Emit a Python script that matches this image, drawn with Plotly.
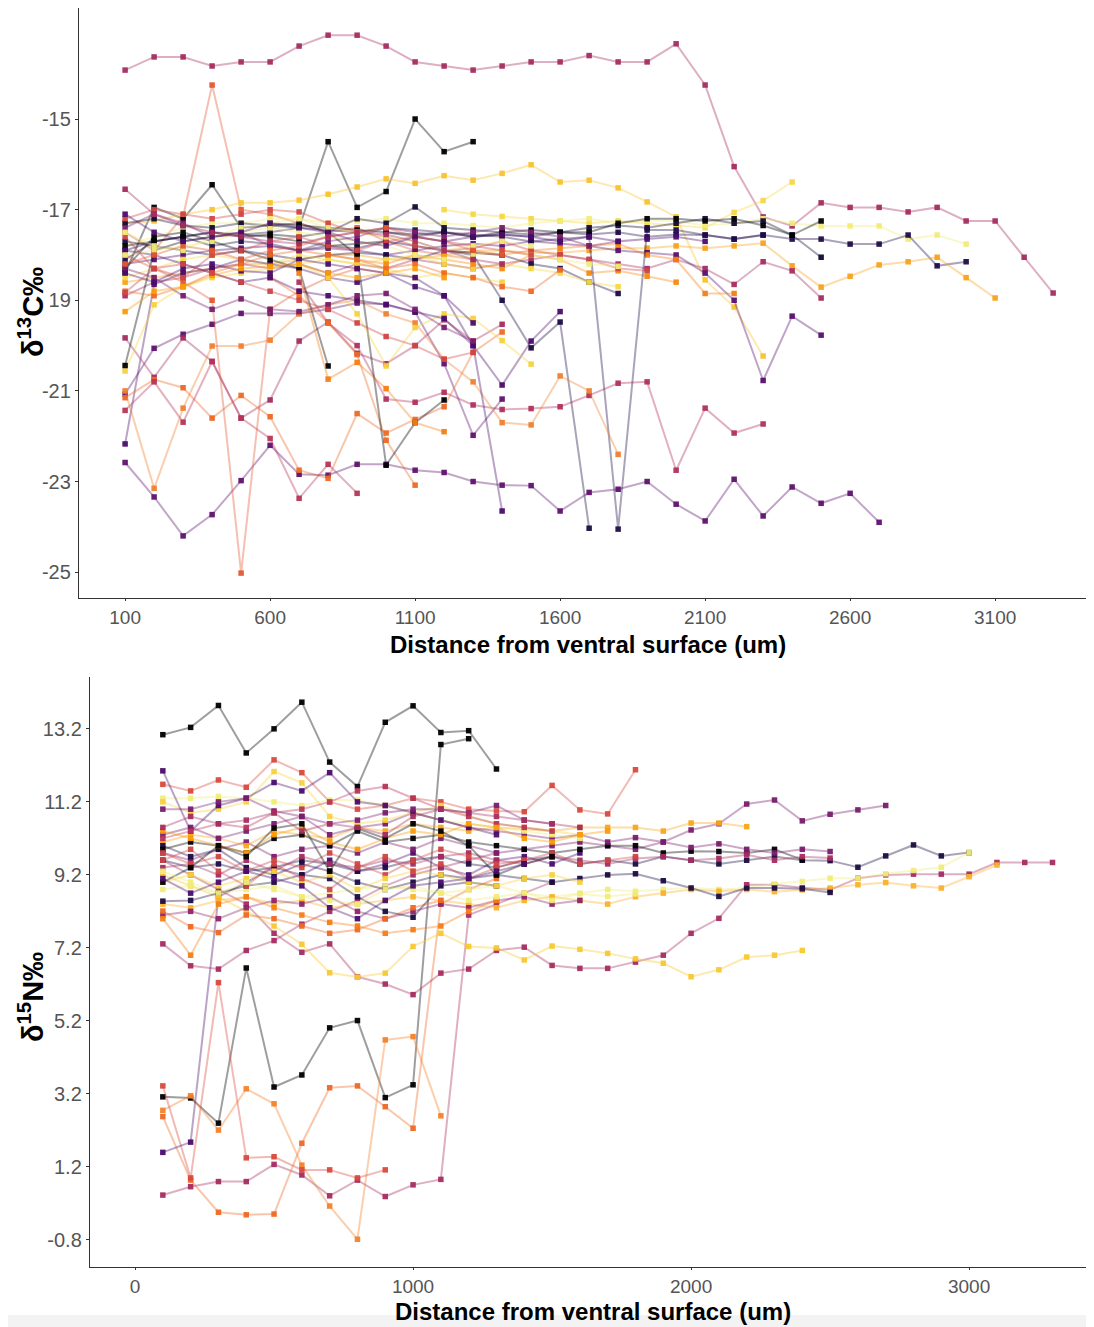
import plotly.graph_objects as go

# ---------------- data ----------------
dist_grid = [100, 200, 300, 400, 500, 600, 700, 800, 900, 1000, 1100, 1200, 1300, 1400, 1500, 1600, 1700,
             1800, 1900, 2000, 2100, 2200, 2300, 2400, 2500, 2600, 2700, 2800, 2900, 3000, 3100, 3200, 3300]

# delta 13C series (start distance, colour, values)
c01 = [-13.92, -13.63, -13.63, -13.83, -13.74, -13.74, -13.39, -13.15, -13.15, -13.39, -13.74, -13.83, -13.92, -13.83,
       -13.74, -13.74, -13.6, -13.74, -13.74, -13.34, -14.25, -16.05, -17.16, -17.36, -16.85, -16.95, -16.95, -17.05,
       -16.95, -17.25, -17.25, -18.05, -18.84]
c02 = [-17.5, -17.9, -17.15, -14.25, -17.0, -17.1, -17.3, -17.5, -17.4, -17.7, -17.9, -18.0, -18.1]
c03 = [-18.4, -16.95, -17.2, -16.45, -17.4, -17.35, -17.4, -15.5, -16.95, -16.6, -15.0, -15.72, -15.5]
c04 = [-17.3, -17.25, -17.1, -17.0, -16.85, -16.85, -16.79, -16.66, -16.5, -16.32, -16.42, -16.25, -16.35, -16.2,
       -16.01, -16.39, -16.35, -16.52, -16.83, -17.16, -18.55, -19.15, -20.23]
c05 = [-17.0, -17.1, -17.15, -17.2, -17.25, -17.3, -17.25, -17.3, -17.35, -17.4, -17.06, -16.8, -16.39]
c06 = [-17.8, -17.6, -17.4, -17.3, -17.3, -17.2, -17.2, -17.3, -17.25, -17.2, -17.3, -17.3, -17.35, -17.4, -17.3,
       -17.25, -17.2, -17.3, -17.24, -17.25, -17.35, -17.3, -17.2, -17.3, -17.36, -17.36, -17.36, -17.65, -17.56, -17.76]
c07 = [-18.1, -17.7, -17.6, -17.5, -17.55, -17.5, -17.4, -17.45, -17.5, -17.4, -17.45, -17.5, -17.6, -17.55, -17.6,
       -17.5, -17.55, -17.5, -17.6, -17.55, -17.56, -17.65, -17.56, -17.65, -17.65, -17.76, -17.76, -17.56, -18.24, -18.15]
c08 = [-18.6, -18.5, -18.4, -18.3, -18.2, -18.2, -18.1, -18.0, -18.0, -18.1, -18.1, -18.0, -17.9, -17.9, -17.95,
       -17.95, -17.9, -17.85, -17.85, -17.8, -17.85, -17.8, -17.74, -18.24, -18.71, -18.47, -18.22, -18.15, -18.05,
       -18.5, -18.95]
c09 = [-18.9, -18.6, -18.5, -18.3, -18.2, -18.3, -18.2, -18.4, -18.2, -18.3, -18.1, -18.2, -18.3, -18.2, -18.1, -18.0,
       -18.1, -18.2, -18.3, -18.1, -18.3, -18.65, -18.15, -18.35, -18.95]
c10 = [-17.3, -17.2, -17.35, -17.4, -17.3, -17.35, -17.3, -17.5, -17.2, -17.3, -16.94, -17.4, -17.45, -17.5, -17.55,
       -17.5, -17.4, -17.35, -17.4, -17.3, -17.2, -17.3, -17.25, -17.56, -18.05]
c11 = [-17.3, -17.35, -17.4, -17.45, -17.5, -17.55, -17.5, -17.6, -17.5, -17.45, -17.5, -17.5, -17.3, -17.2, -17.2,
       -17.25, -17.2, -17.35, -17.56, -17.25]
c12 = [-22.58, -23.34, -24.2, -23.73, -22.98, -22.2, -22.84, -22.86, -22.62, -22.62, -22.75, -22.8, -23.0, -23.08,
       -23.09, -23.65, -23.24, -23.17, -23.0, -23.5, -23.87, -22.95, -23.76, -23.12, -23.48, -23.26, -23.9]
c13 = [-18.6, -19.5, -20.0, -21.18, -21.25, -21.03, -21.31, -21.41, -21.39, -21.35, -21.1, -20.83, -20.8, -22.75,
       -21.38, -21.93, -21.73]
c14 = [-18.2, -18.1, -18.0, -17.9, -17.85, -17.8, -17.9, -17.85, -17.9, -18.0, -17.9, -17.8, -17.75, -17.8, -17.7,
       -17.75, -17.8, -17.9, -17.95, -18.0, -18.4, -19.0, -20.77, -19.35, -19.77]
c15 = [-17.9, -17.95, -18.0, -17.9, -17.85, -17.8, -17.75, -18.0, -18.1, -18.85, -18.85]
c16 = [-17.7, -17.8, -17.9, -18.0, -17.9, -18.0, -18.1, -18.0, -17.95, -18.0, -18.1, -17.9, -17.95, -18.0, -18.2,
       -18.3, -18.6, -18.85]
c17 = [-18.5, -18.3, -18.1, -18.0, -18.1, -18.2, -18.0, -18.1, -18.2, -18.1, -18.0, -18.2, -18.3, -18.2, -18.3, -18.4,
       -18.6, -18.7]
c18 = [-18.0, -18.1, -18.2, -18.0, -18.1, -18.2, -18.3, -18.0, -18.1, -18.4, -18.35, -18.47, -18.6]
c19 = [-17.9, -17.7, -17.6, -17.8, -17.7, -17.75, -17.9, -17.8, -17.85, -17.7, -17.8, -17.9, -18.0, -19.0, -20.05,
       -19.48, -24.03]
c20 = [-17.5, -17.6, -17.5, -17.55, -17.6, -17.7, -17.65, -17.6, -24.05, -17.45, -17.45, -17.56, -17.65, -17.56]
c21 = [-21.07, -20.06, -19.75, -19.53, -19.29, -19.29, -19.29, -19.2, -19.06, -19.09, -19.26, -20.4, -21.98, -21.18]
c22 = [-22.17, -18.65, -18.4, -18.3, -18.1, -18.2, -18.3, -18.5, -18.6, -18.4, -18.7, -18.9, -20.0, -20.87, -19.9,
       -19.25]
c23 = [-19.83, -20.7, -19.83, -20.35, -21.6, -21.2, -19.9, -19.48, -20.17, -20.4, -20.0, -19.43, -19.9, -19.53]
c24 = [-21.0, -23.15, -21.38, -20.01, -20.01, -19.88, -19.3, -19.1, -19.0, -19.3, -19.5, -20.3, -20.8, -21.7, -21.75,
       -20.67, -21.0, -22.4]
c25 = [-21.15, -20.75, -20.93, -21.6, -21.1, -21.57, -22.75, -22.93, -21.5, -21.93, -21.63, -21.35, -20.15, -19.7]
c26 = [-21.43, -20.8, -21.69, -20.35, -21.6, -22.05, -23.37, -22.62, -23.26]
c27 = [-18.0, -18.3, -18.6, -19.0, -25.02, -19.2, -18.8, -18.5, -18.3, -18.4]
c28 = [-18.5, -18.9, -19.5, -20.2, -22.09, -23.08]
c29 = [-18.3, -17.6, -17.5, -17.7, -17.9, -18.1, -18.3, -20.45]
c30 = [-17.8, -17.7, -17.6, -17.5, -17.6, -17.55, -17.6, -17.5, -18.0, -22.64, -21.7, -21.2]
c31 = [-18.4, -20.74, -20.37, -20.95, -21.7, -21.9]
c32 = [-20.56, -19.1, -18.7, -18.5, -18.4, -18.3, -18.2, -18.1, -18.2, -18.3, -18.5, -18.4, -18.5, -18.6]
c33 = [-20.44, -17.9, -17.7, -17.6, -17.55, -17.6, -17.7, -17.8, -17.75, -17.7]
c34 = [-18.2, -18.5, -19.3, -20.45, -19.6, -19.3, -19.4, -19.89, -20.41]
c35 = [-17.9, -18.0, -18.2, -18.4, -18.6, -18.5, -18.8, -18.9, -19.0, -19.1, -19.26, -19.4, -20.0, -23.65]
c36 = [-18.3, -18.5, -18.9, -19.2, -18.97, -19.2, -19.25, -19.1, -18.9, -18.85, -19.2, -19.6, -19.9]
c37 = [-17.2, -17.0, -17.1, -17.2, -17.1, -17.0, -17.05, -17.3, -17.5, -17.6, -17.8, -17.9, -17.85, -17.7, -17.9,
       -18.0, -18.1, -18.3, -18.35]
c38 = [-18.0, -17.9, -17.8, -17.7, -17.5, -17.4, -17.5, -17.6, -17.7, -17.8, -18.0, -18.1, -18.0, -17.9, -18.0, -18.1,
       -18.2, -18.25]
c39 = [-17.6, -18.3, -18.5, -18.0, -17.9, -17.7, -17.6, -17.8, -17.9, -17.7, -17.6, -17.7, -17.8, -17.9, -18.0]
c40 = [-18.4, -18.6, -18.3, -18.2, -18.35, -18.4, -18.1, -18.2, -18.3, -18.4, -18.5, -18.9, -19.5]
c41 = [-18.8, -18.9, -18.7, -18.4, -18.2, -18.0, -17.9, -18.0, -18.1, -18.3, -18.2, -18.4, -18.5, -18.7, -18.8, -18.33]
c42 = [-17.4, -17.1, -17.3, -17.6, -17.5, -17.8, -17.9, -17.7, -17.6, -17.4, -17.5, -17.6, -17.5, -17.4, -17.5, -17.6,
       -17.8, -17.7]
c43 = [-17.5, -17.8, -17.9, -17.6, -17.4, -17.3, -17.2, -17.4, -17.5, -17.6, -17.7, -17.9, -17.8, -17.7, -17.8]
c44 = [-18.2, -18.0, -17.8, -17.9, -18.1, -17.9, -17.8, -17.6, -17.5, -17.4, -17.6, -17.7, -17.9, -18.0]
c45 = [-17.1, -17.5, -17.7, -17.6, -17.5, -17.3, -17.4, -17.5, -17.7, -17.8, -17.6, -17.7, -17.6, -17.55, -17.6, -17.7,
       -17.6, -17.7, -17.65, -17.6, -17.7]
c46 = [-16.55, -17.1, -17.35, -17.5, -17.6, -17.7, -17.75, -17.6, -17.5, -17.55, -17.7, -17.9, -18.1, -18.2]
c47 = [-19.25, -18.8, -18.7, -18.45, -18.3, -18.25, -18.2, -18.4, -18.5, -18.4, -18.3, -18.5]
c48 = [-18.83, -18.3, -18.2, -18.4, -18.6, -18.8, -19.0, -19.2, -19.5, -19.8, -20.0, -20.3, -20.15]

c_values = [c01, c02, c03, c04, c05, c06, c07, c08, c09, c10, c11, c12, c13, c14, c15, c16, c17, c18, c19, c20,
            c21, c22, c23, c24, c25, c26, c27, c28, c29, c30, c31, c32, c33, c34, c35, c36, c37, c38, c39, c40,
            c41, c42, c43, c44, c45, c46, c47, c48]
c_start = [100, 100, 100, 100, 1200, 100, 100, 100, 100, 100, 600, 100, 700, 100, 1200, 100, 100, 800, 100, 1000,
           100, 100, 100, 100, 100, 100, 100, 600, 100, 100, 700, 100, 100, 700, 100, 100, 100, 100, 100, 100,
           100, 100, 100, 100, 100, 100, 100, 100]
c_color = ["#a52c60", "#e35933", "#000004", "#f9c22e", "#f5d745", "#f0ec78", "#1f0c48", "#f8a21a", "#a52c60",
           "#120a32", "#000004", "#5f126e", "#b0305c", "#56106e", "#f57d15", "#1b0c41", "#f5d745", "#f68a10",
           "#1b0c41", "#200c4a", "#5f126e", "#4a0c6b", "#a52c60", "#f08030", "#ed6925", "#b73557", "#e35933",
           "#ed6925", "#000004", "#000004", "#f57d15", "#f7d13d", "#000004", "#f7d13d", "#4a0c6b", "#781c6d",
           "#cf4446", "#f0ec78", "#cf4446", "#4a0c6b", "#ed6925", "#781c6d", "#f0ec78", "#e35933", "#4a0c6b",
           "#a52c60", "#fb9b06", "#cf4446"]

# delta 15N series
n01 = [13.04, 13.24, 13.84, 12.54, 13.2, 13.93, 12.29, 11.62, 13.38, 13.83, 13.1, 13.15, 12.1]
n02 = [3.12, 3.09, 2.4, 6.65, 3.39, 3.72, 5.01, 5.21, 3.1, 3.45, 12.77, 12.93]
n03 = [0.43, 0.66, 0.8, 0.8, 1.27, 0.98, 0.41, 0.84, 0.39, 0.71, 0.86, 8.1, 8.4, 8.7, 9.0]
n04 = [2.58, 0.84, -0.04, -0.11, -0.09, 1.85, 3.37, 3.42, 2.85, 2.26, 8.4, 8.8, 9.1]
n05 = [2.75, 3.15, 2.21, 3.34, 2.93, 1.25, 0.13, -0.78, 4.68, 4.77, 2.6]
n06 = [3.42, 0.9, 6.25, 1.45, 1.48, 1.12, 1.12, 0.9, 1.12]
n07 = [1.6, 1.88, 8.6, 9.0, 9.4, 9.2, 9.6, 9.3, 9.5, 9.8, 9.4, 9.2, 9.6, 9.7, 9.5, 9.8]
n08 = [7.31, 6.71, 6.62, 7.13, 7.4, 7.85, 8.2, 8.5, 8.9, 9.2, 9.4, 9.6, 9.8]
n09 = [9.6, 9.2, 8.8, 8.4, 7.6, 7.08, 7.31, 6.41, 6.21, 5.92, 6.51, 6.62, 7.13, 7.22, 6.72, 6.64, 6.64, 6.81, 7.0,
       7.6, 8.01, 8.93, 8.93, 8.85, 8.79, 9.11, 9.2, 9.22, 9.22, 9.22, 9.54, 9.54, 9.54]
n10 = [9.2, 8.9, 8.6, 8.2, 7.8, 7.3, 6.52, 6.4, 6.51, 7.24, 7.6, 7.24, 7.2, 6.87, 7.25, 7.16, 7.05, 6.9, 6.78, 6.41,
       6.6, 6.95, 7.0, 7.13]
n11 = [9.8, 9.6, 9.9, 10.1, 9.7, 9.9, 10.0, 9.8, 10.1, 9.9, 10.2, 10.0, 9.8, 9.9, 10.0, 10.1, 10.0, 9.9, 10.1, 10.43,
       10.6, 11.14, 11.25, 10.68, 10.86, 10.98, 11.1]
n12 = [11.68, 11.5, 11.8, 11.6, 12.35, 12.0, 11.2, 11.0, 11.1, 11.3, 11.2, 11.0, 10.95, 10.93, 11.65, 10.98, 10.87,
       12.08]
n13 = [10.1, 10.3, 10.2, 10.0, 10.4, 10.3, 10.2, 10.5, 10.4, 10.6, 10.5, 10.4, 10.5, 10.45, 10.4, 10.5, 10.5, 10.5,
       10.4, 10.62, 10.62, 10.52]
n14 = [9.6, 9.4, 9.5, 9.3, 9.4, 9.6, 9.5, 9.3, 9.4, 9.6, 9.7, 9.5, 9.4, 9.6, 9.7, 9.5, 9.6, 9.5, 9.7, 9.6, 9.5, 9.6,
       9.7, 9.6, 9.59, 9.41, 9.72, 10.02, 9.72, 9.81]
n15 = [8.8, 8.9, 8.7, 8.8, 8.9, 8.6, 8.7, 8.8, 8.9, 8.8, 8.7, 8.8, 8.9, 8.7, 8.6, 8.7, 8.8, 8.75, 8.8, 8.85, 8.8, 8.84,
       8.95, 9.02, 9.11, 9.11, 9.23, 9.32, 9.41, 9.81]
n16 = [8.4, 8.3, 8.5, 8.6, 8.4, 8.5, 8.3, 8.4, 8.5, 8.6, 8.5, 8.4, 8.3, 8.5, 8.6, 8.5, 8.4, 8.6, 8.7, 8.8, 8.75, 8.8,
       8.74, 8.79, 8.84, 8.93, 8.99, 8.9, 8.84, 9.15, 9.47]
n17 = [10.0, 9.7, 9.9, 9.4, 9.2, 9.5, 9.3, 9.0, 8.8, 9.0, 9.2, 9.1, 9.2, 9.1, 9.0, 9.1, 9.2, 9.23, 9.04, 8.84, 8.61,
       8.84, 8.84, 8.82, 8.72]
n18 = [9.9, 10.1, 10.0, 9.8, 10.2, 10.3, 10.0, 10.4, 10.1, 10.2, 10.3, 10.1, 10.0, 9.9, 9.8, 9.9, 10.0, 10.0, 9.8,
       9.85, 9.84, 9.8, 9.9, 9.61]
n19 = [10.3, 10.5, 10.2, 10.4, 10.6, 10.8, 10.3, 10.5, 10.6, 10.9, 10.7, 10.5, 10.4, 10.3, 10.2, 10.3, 10.1, 10.22,
       10.1, 9.95, 10.05, 9.9, 9.8, 9.9, 9.84]
n20 = [9.4, 9.5, 9.2, 9.6, 9.3, 9.7, 9.5, 9.4, 9.6, 9.5, 9.7, 9.8, 9.6, 9.5, 9.7, 9.6, 9.5, 9.65, 9.7, 9.6, 9.65,
       9.75, 9.6, 9.7, 9.66]
n21 = [9.8, 9.5, 9.7, 9.3, 9.6, 9.4, 9.8, 9.5, 9.2, 9.6, 9.9, 9.7, 9.5, 9.6, 9.8, 9.5, 9.6, 9.7]
n22 = [11.3, 11.3, 11.35, 11.3, 11.2, 11.1, 11.25, 11.25, 11.1, 10.9, 10.7, 10.6, 10.5, 10.4, 10.3, 10.2]
n23 = [11.2, 10.9, 11.0, 11.2, 12.03, 11.72, 10.8, 10.6, 10.7, 10.9, 11.1, 10.8, 10.6, 10.5, 10.4, 10.3]
n24 = [12.05, 10.4, 11.1, 11.3, 11.73, 11.5, 12.0, 11.2, 11.1, 10.9, 10.7, 10.5, 10.3]
n25 = [11.0, 11.0, 11.2, 11.3, 10.95, 10.8, 10.6, 10.7, 10.9, 11.0, 11.0, 10.9, 11.1, 10.7, 10.6]
n26 = [10.2, 10.4, 10.6, 10.5, 10.9, 11.0, 11.2, 11.5, 11.62, 11.3, 11.0, 10.8, 10.6, 10.5, 10.4]
n27 = [8.1, 8.2, 8.0, 8.3, 8.5, 8.4, 8.6, 8.2, 8.0, 8.2, 8.4, 8.3, 8.5, 8.6, 8.4, 8.5]
n28 = [8.21, 7.78, 7.62, 8.1, 8.0, 7.8, 7.6, 7.7, 8.0, 8.3, 8.5]
n29 = [8.0, 7.0, 8.4, 8.6, 8.3, 8.1, 7.9, 7.8, 7.6, 7.7, 7.8, 8.2, 8.5]
n30 = [8.48, 8.5, 8.7, 8.9, 9.0, 9.2, 9.1, 8.6, 8.2, 8.04, 8.9, 9.0, 8.9]
n31 = [9.0, 9.2, 8.9, 9.1, 9.3, 9.0, 9.2, 8.8, 9.1, 9.3, 9.2, 9.0, 8.9, 9.1, 9.2, 9.0]
n32 = [9.6, 9.9, 9.3, 8.9, 9.5, 9.1, 8.8, 9.4, 9.7, 9.3, 9.5, 9.1, 9.4, 9.6]
n33 = [10.4, 10.2, 10.0, 9.8, 10.3, 10.5, 10.1, 9.9, 10.2, 10.4, 10.3, 10.6, 10.5, 10.2, 10.1, 10.3, 10.4]
n34 = [9.0, 9.4, 10.0, 9.7, 10.48, 10.6, 9.3, 10.47, 10.2, 10.6, 10.4, 10.0, 9.2, 9.5, 9.7]
n35 = [9.3, 9.0, 8.7, 9.0, 8.8, 8.6, 8.5, 8.4, 8.8, 8.9, 8.7, 8.5, 8.6, 8.7, 8.5, 8.68, 8.61, 8.68]
n36 = [10.5, 10.8, 10.6, 10.7, 10.9, 10.4, 10.6, 10.5, 10.3, 10.8, 11.0, 10.9, 10.8, 10.7, 10.6, 10.5]
n37 = [9.1, 8.7, 9.0, 9.3, 9.1, 8.9, 8.3, 8.0, 8.5, 8.9, 9.0, 9.1, 9.3, 9.5]

n_values = [n01, n02, n03, n04, n05, n06, n07, n08, n09, n10, n11, n12, n13, n14, n15, n16, n17, n18, n19, n20,
            n21, n22, n23, n24, n25, n26, n27, n28, n29, n30, n31, n32, n33, n34, n35, n36, n37]
n_start = [100] * 37
n_color = ["#000004", "#000004", "#a52c60", "#ed6925", "#f4822a", "#d9493c", "#4a0c6b", "#a52c60", "#a52c60",
           "#f8c830", "#781c6d", "#d9493c", "#f9a51a", "#1b0c41", "#f0ec78", "#fbb12a", "#1b0c41", "#000004",
           "#781c6d", "#a52c60", "#cf4446", "#f0ec78", "#f7d13d", "#4a0c6b", "#781c6d", "#b73557", "#8f2469",
           "#ed6925", "#f57d15", "#1b0c41", "#f7d13d", "#cf4446", "#fb9b06", "#000004", "#f0ec78", "#a52c60",
           "#4a0c6b"]

c_ticks = [-15, -17, -19, -21, -23, -25]
c_ticktext = ["-15", "-17", "19", "-21", "-23", "-25"]
c_xticks = [100, 600, 1100, 1600, 2100, 2600, 3100]
n_ticks = [13.2, 11.2, 9.2, 7.2, 5.2, 3.2, 1.2, -0.8]
n_ticktext = ["13.2", "11.2", "9.2", "7.2", "5.2", "3.2", "1.2", "-0.8"]
n_xticks = [0, 1000, 2000, 3000]


def rgba(h, a):
    h = h.lstrip("#")
    r, g, b = int(h[0:2], 16), int(h[2:4], 16), int(h[4:6], 16)
    return f"rgba({r},{g},{b},{a})"


fig = go.Figure()


def add_series(values, starts, colors, xa, ya):
    for vals, st, col in zip(values, starts, colors):
        i0 = dist_grid.index(st)
        xs = dist_grid[i0:i0 + len(vals)]
        fig.add_trace(go.Scatter(
            x=xs, y=vals, mode="lines+markers", xaxis=xa, yaxis=ya,
            line=dict(color=rgba(col, 0.38), width=2),
            marker=dict(symbol="square", size=5.5, color=rgba(col, 0.95),
                        line=dict(width=0)),
            showlegend=False, hoverinfo="skip"))


add_series(c_values, c_start, c_color, "x", "y")
add_series(n_values, n_start, n_color, "x2", "y2")

# page body has an 8px margin; figure sits at (8, 8) in the window
OFF = 8
W, H = 1094 - OFF, 1327 - OFF


def px(v):
    return (v - OFF) / W


def py(v):
    return 1 - (v - OFF) / H


axis_common = dict(showgrid=False, zeroline=False, showline=True, linecolor="#333333", linewidth=1.4,
                   tickcolor="#333333", tickwidth=1.2, ticks="outside")
yfont = dict(family="Liberation Sans, Arial, sans-serif", size=20, color="#555555")
xfont = dict(family="Liberation Sans, Arial, sans-serif", size=19, color="#555555")

fig.update_layout(
    width=W, height=H, margin=dict(l=0, r=0, t=0, b=0),
    paper_bgcolor="white", plot_bgcolor="white", showlegend=False,
    xaxis=dict(domain=[px(79), px(1092)], range=[-59, 3434], tickvals=c_xticks, anchor="y",
               ticklen=2, tickfont=xfont, **axis_common),
    yaxis=dict(domain=[py(598), py(8)], range=[-25.57, -12.55], tickvals=c_ticks, ticktext=c_ticktext,
               anchor="x", ticklen=3, tickfont=yfont, **axis_common),
    xaxis2=dict(domain=[px(90), px(1092)], range=[-162, 3442], tickvals=n_xticks, anchor="y2",
                ticklen=2, tickfont=xfont, **axis_common),
    yaxis2=dict(domain=[py(1267), py(677)], range=[-1.54, 14.62], tickvals=n_ticks, ticktext=n_ticktext,
                anchor="x2", ticklen=3, tickfont=yfont, **axis_common),
)

title_font = dict(family="Liberation Sans, Arial, sans-serif", size=24, color="black")
ytitle_font = dict(family="Liberation Sans, Arial, sans-serif", size=29, color="black")
fig.add_annotation(text="<b>Distance from ventral surface (um)</b>", x=px(588), y=py(644),
                   xref="paper", yref="paper", showarrow=False, font=title_font, xanchor="center", yanchor="middle")
fig.add_annotation(text="<b>Distance from ventral surface (um)</b>", x=px(593), y=py(1311),
                   xref="paper", yref="paper", showarrow=False, font=title_font, xanchor="center", yanchor="middle")
fig.add_annotation(text="<b>δ<sup>13</sup>C‰</b>", x=px(31), y=py(312), textangle=-90,
                   xref="paper", yref="paper", showarrow=False, font=ytitle_font, xanchor="center", yanchor="middle")
fig.add_annotation(text="<b>δ<sup>15</sup>N‰</b>", x=px(31), y=py(997), textangle=-90,
                   xref="paper", yref="paper", showarrow=False, font=ytitle_font, xanchor="center", yanchor="middle")

fig.add_shape(type="rect", xref="paper", yref="paper", x0=0, x1=1, y0=0, y1=12 / H,
              fillcolor="#f3f3f3", line=dict(width=0), layer="below")

fig.write_html("out.html")
